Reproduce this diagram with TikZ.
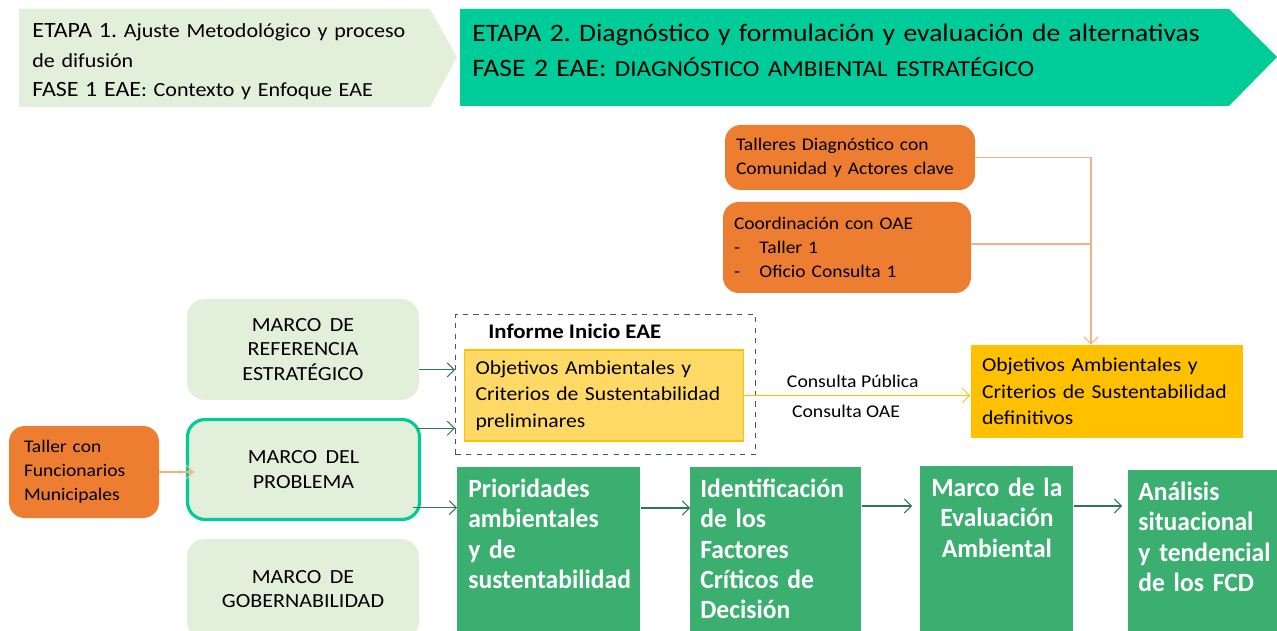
\documentclass[tikz,border=0pt]{standalone}
\usepackage{fontspec}
\setmainfont[FakeStretch=1.1]{Carlito}
\newfontfamily\estrecha[FakeStretch=0.97]{Carlito}
\usepackage{tikz}
\usetikzlibrary{positioning}
\usetikzlibrary{calc}
\usetikzlibrary{arrows.meta}
\frenchspacing

\definecolor{etapauno}{RGB}{226,239,218}
\definecolor{etapados}{RGB}{0,204,153}
\definecolor{naranja}{RGB}{237,125,49}
\definecolor{lineanaranja}{RGB}{244,177,131}
\definecolor{verdeclaro}{RGB}{226,239,218}
\definecolor{verdeoscuro}{RGB}{59,175,112}
\definecolor{verdeflecha}{RGB}{49,117,82}
\definecolor{amarilloclaro}{RGB}{255,217,102}
\definecolor{amarillo}{RGB}{255,192,0}
\definecolor{grisazul}{RGB}{68,84,106}

\newcommand{\espacioancho}{\spaceskip=0.42em plus 0.1em\relax}

\tikzset{
	cajanaranja/.style={fill=naranja, rounded corners=9pt, align=left, inner xsep=11*0.02cm,
		font=\fontsize{10.1}{13.8}\selectfont},
	cajamarco/.style={fill=verdeclaro, rounded corners=10pt, align=center,
		minimum width=232*0.02cm, minimum height=101*0.02cm,
		font=\fontsize{11.4}{13.9}\selectfont\espacioancho},
	cajaobjetivo/.style={align=left, inner xsep=6.5pt,
		font=\fontsize{11.2}{15}\selectfont\espacioancho},
	cajaverde/.style={fill=verdeoscuro, text=white, anchor=north west, align=left,
		inner ysep=7pt, text height=10pt, text depth=90pt,
		font=\estrecha\bfseries\fontsize{15}{17.3}\selectfont},
	flechaverde/.style={->, draw=verdeflecha, line width=0.6pt},
	flechanaranja/.style={->, draw=lineanaranja, line width=0.6pt},
	>={Straight Barb[length=4pt,width=8pt]}
}

\begin{document}
\begin{tikzpicture}[x=0.02cm,y=-0.02cm]
	\useasboundingbox (0,0) rectangle (1277,631);
	% etapas
	\fill[etapauno] (19,9) -- (430,9) -- (457,57) -- (430,107) -- (19,107) -- cycle;
	\fill[etapados] (460,9) -- (1229,9) -- (1277,57) -- (1229,106) -- (460,106) -- cycle;
	\node[anchor=base west, inner sep=0pt, text width=420*0.02cm, align=left,
		font=\fontsize{11.4}{16.7}\selectfont] (etapa1) at (32,38)
		{{\fontsize{12.4}{16.7}\selectfont ETAPA 1.} Ajuste Metodológico y proceso\\
		de difusión\\
		{\fontsize{12.4}{16.7}\selectfont FASE 1 EAE}: Contexto y Enfoque EAE};
	\node[anchor=base west, inner sep=0pt, text width=780*0.02cm, align=left,
		font=\fontsize{14.3}{19.8}\selectfont] (etapa2) at (472,42)
		{ETAPA 2. Diagnóstico y formulación y evaluación de alternativas\\
		FASE 2 EAE: {\fontsize{13}{19.8}\selectfont DIAGNÓSTICO AMBIENTAL ESTRATÉGICO}};

	% talleres y coordinacion
	\node[cajanaranja, text width=228*0.02cm, minimum height=65*0.02cm] (talleres) at (850,157.5)
		{Talleres Diagnóstico con\\Comunidad y Actores clave};
	\node[cajanaranja, text width=226*0.02cm, minimum height=91*0.02cm] (coord) at (847,247.5)
		{Coordinación con OAE\\-\hspace{1.1em}Taller 1\\-\hspace{1.1em}Oficio Consulta 1};
	\node[cajanaranja, inner xsep=15*0.02cm, text width=120*0.02cm, minimum height=92*0.02cm] (taller) at (84,472)
		{Taller con\\Funcionarios\\Municipales};

	% marcos
	\node[cajamarco] (referencia) at (303,349.5) {MARCO DE\\REFERENCIA\\ESTRATÉGICO};
	\node[cajamarco, draw=etapados, line width=1.8pt, minimum width=232*0.02cm, minimum height=100*0.02cm] (problema) at (303.5,469.5) {MARCO DEL\\PROBLEMA};
	\node[cajamarco, minimum height=100*0.02cm] (gobernabilidad) at (303,589) {MARCO DE\\GOBERNABILIDAD};

	% informe inicio
	\node[draw=grisazul, dashed, line width=0.6pt, anchor=north west, minimum width=300*0.02cm, minimum height=140*0.02cm] (informe) at (455,314) {};
	\node[anchor=west, inner sep=0pt, font=\bfseries\fontsize{11.8}{12}\selectfont] (titinforme) at (488,331) {Informe Inicio EAE};
	\node[cajaobjetivo, fill=amarilloclaro, draw=amarillo, line width=0.6pt, text width=257*0.02cm, minimum height=91*0.02cm] (preliminar) at (604,395.5)
		{Objetivos Ambientales y\\Criterios de Sustentabilidad\\preliminares};
	\node[cajaobjetivo, fill=amarillo, text width=250*0.02cm, minimum height=93*0.02cm] (definitivo) at (1107,391.5)
		{Objetivos Ambientales y\\Criterios de Sustentabilidad\\definitivos};

	% cajas verdes
	\node[cajaverde, inner xsep=11*0.02cm, text width=161*0.02cm] (prioridades) at (457,467)
		{Prioridades\\ambientales\\y de\\sustentabilidad};
	\node[cajaverde, inner xsep=10*0.02cm, text width=151*0.02cm] (factores) at (690,467)
		{Identificación\\de los\\Factores\\Críticos de\\Decisión};
	\node[cajaverde, align=center, inner xsep=4*0.02cm, text width=145*0.02cm] (marcoeval) at (920,466)
		{Marco de la\\Evaluación\\Ambiental};
	\node[cajaverde, inner xsep=10*0.02cm, text width=150*0.02cm] (analisis) at (1128,470)
		{Análisis\\situacional\\y tendencial\\de los FCD};

	% conectores
	\draw[draw=lineanaranja, line width=0.6pt] (coord.east |- 0,244) -- (1091,244);
	\draw[flechanaranja] (talleres.east) -| ($(definitivo.north)+(-16,0)$);
	\draw[flechanaranja] (taller.east) -- ($(taller.east -| problema.west)+(8,0)$);
	\draw[->, draw=amarillo, line width=0.6pt] (preliminar.east) -- (preliminar.east -| definitivo.west)
		node[pos=0.48, above=1pt, text=black, font=\fontsize{10.2}{11}\selectfont] (cpublica) {Consulta Pública}
		node[pos=0.45, below=2pt, text=black, font=\fontsize{10.2}{11}\selectfont] (coae) {Consulta OAE};
	\draw[flechaverde] ($(referencia.south east)!.3!(referencia.north east)$) coordinate (a1) -- (a1 -| informe.west);
	\draw[flechaverde] ($(problema.south east)!.9!(problema.north east)+(-4,0)$) coordinate (a2) -- (a2 -| informe.west);
	\draw[flechaverde] ($(problema.south east)!.13!(problema.north east)+(-8,0)$) coordinate (a3) -- (a3 -| prioridades.west);
	\draw[flechaverde] (prioridades.east |- 0,508) -- (factores.west |- 0,508);
	\draw[flechaverde] (factores.east |- 0,506) -- ($(marcoeval.west |- 0,506)+(-8,0)$);
	\draw[flechaverde] (marcoeval.east |- 0,506) -- ($(analisis.west |- 0,506)+(-6,0)$);
\end{tikzpicture}
\end{document}
